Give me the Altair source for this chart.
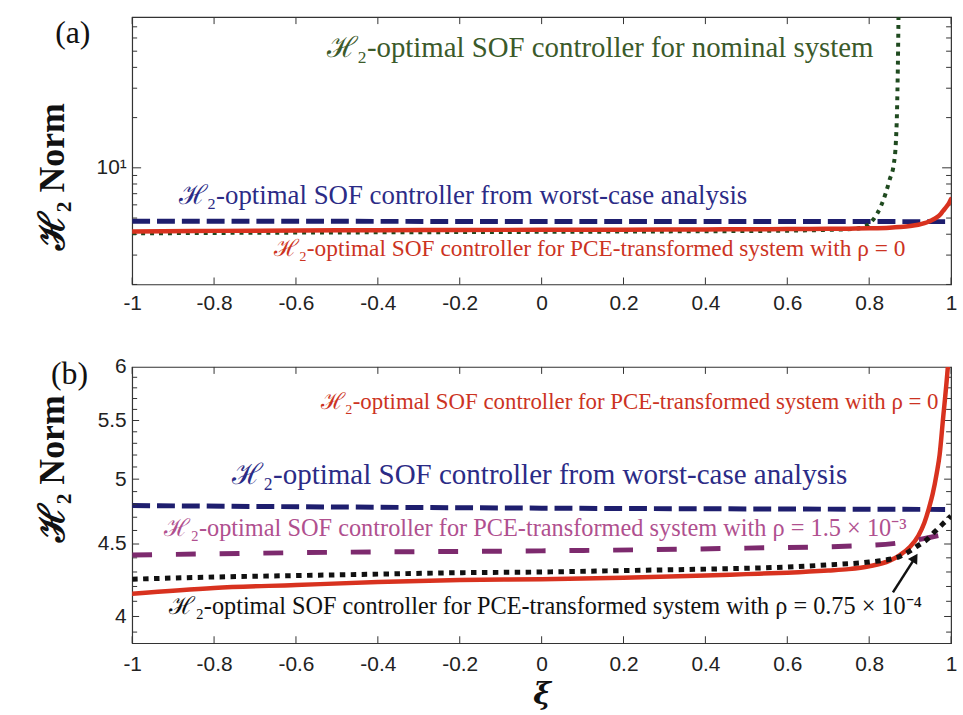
import altair as alt
import pandas as pd

# ---------------- data ----------------
XI_TICKS = [-1, -0.8, -0.6, -0.4, -0.2, 0, 0.2, 0.4, 0.6, 0.8, 1]

A_MAJOR = [10]
A_MINOR = [2, 3, 4, 5, 6, 7, 8, 9, 20, 30, 40, 50, 60, 70]
B_MAJOR = [4, 4.5, 5, 5.5]
B_MINOR = [3.9, 4.1, 4.2, 4.3, 4.4, 4.6, 4.7, 4.8, 4.9, 5.1, 5.2,
           5.3, 5.4, 5.6, 5.7, 5.8, 5.9]

# PCE-transformed system, rho = 0 (red solid)
xi_red = [-1.0, -0.8, -0.6, -0.4, -0.2, 0.0, 0.2, 0.4, 0.5, 0.6, 0.7, 0.75, 0.8,
          0.85, 0.875, 0.9, 0.92, 0.935, 0.946, 0.955, 0.965, 0.972, 0.98, 0.99,
          0.995, 1.0]
h2_red = [4.15, 4.19, 4.21, 4.23, 4.245, 4.25, 4.26, 4.275, 4.285, 4.295, 4.31,
          4.32, 4.34, 4.38, 4.42, 4.48, 4.56, 4.66, 4.77, 4.88, 5.05, 5.2, 5.5,
          5.9, 6.15, 6.5]

# worst-case analysis (navy dashed)
xi_blue = [-1.0, 0.0, 1.0]
h2_blue = [4.79, 4.77, 4.76]

# PCE-transformed system, rho = 1.5e-3 (purple dashed)
xi_pur = [-1.0, -0.5, 0.0, 0.5, 0.8, 0.9, 0.95, 1.0]
h2_pur = [4.42, 4.44, 4.45, 4.47, 4.49, 4.52, 4.55, 4.58]

# PCE-transformed system, rho = 0.75e-4 (black dotted)
xi_blk = [-1.0, -0.8, -0.6, -0.4, -0.2, 0.0, 0.2, 0.4, 0.6, 0.7, 0.8, 0.85,
          0.875, 0.9, 0.92, 0.94, 0.96, 0.98, 1.0]
h2_blk = [4.25, 4.265, 4.275, 4.285, 4.295, 4.30, 4.31, 4.32, 4.335, 4.35, 4.37,
          4.39, 4.41, 4.45, 4.49, 4.53, 4.59, 4.65, 4.71]

# nominal system (green dotted, panel a)
xi_grn = [-1.0, -0.6, -0.2, 0.2, 0.6, 0.7, 0.76, 0.79, 0.81, 0.83, 0.84, 0.85,
          0.86, 0.865, 0.868, 0.87, 0.872]
h2_grn = [4.05, 4.09, 4.12, 4.15, 4.2, 4.25, 4.3, 4.45, 4.9, 6.0, 7.0, 8.5,
          10.5, 14.0, 22.0, 40.0, 100.0]

# annotation texts
TXT_RED = "ℋ₂-optimal SOF controller for PCE-transformed system with ρ = 0"
TXT_BLUE = "ℋ₂-optimal SOF controller from worst-case analysis"
TXT_GRN = "ℋ₂-optimal SOF controller for nominal system"
TXT_PUR = "ℋ₂-optimal SOF controller for PCE-transformed system with ρ = 1.5 × 10⁻³"
TXT_BLK = "ℋ₂-optimal SOF controller for PCE-transformed system with ρ = 0.75 × 10⁻⁴"

ann_a_txt = ["(a)", TXT_GRN, TXT_BLUE, TXT_RED]
ann_a_xi = [-1.145, 0.143, -0.192, 0.117]
ann_a_h2 = [64.0, 52.5, 6.82, 3.24]
ann_a_col = ["#111111", "#3b5a2a", "#2b2b86", "#cc3322"]
ann_a_fs = [32, 29, 27, 23.5]

ann_b_txt = ["(b)", TXT_RED, TXT_BLUE, TXT_PUR, TXT_BLK]
ann_b_xi = [-1.153, 0.215, -0.005, -0.015, 0.01]
ann_b_h2 = [5.93, 5.67, 5.03, 4.61, 4.06]
ann_b_col = ["#111111", "#cc3322", "#2b2b86", "#b0508f", "#111111"]
ann_b_fs = [32, 23, 29.2, 24.5, 24.4]

arrow_xi = [0.858]
arrow_h2 = [4.16]
arrow_xi2 = [0.912]
arrow_h22 = [4.40]

# ---------------- styling / layout ----------------
W = 824
HA = 269
HB = 278
C_BLUE = "#1e1e6e"
C_RED = "#d8321f"
C_PUR = "#7d2a6e"
C_BLK = "#111111"
C_GRN = "#1f4a1f"
TXT_FONT = "Liberation Serif"

XSCALE = alt.Scale(domain=[-1, 1], nice=False, zero=False)
YSCALE_A = alt.Scale(type="log", domain=[2, 80], nice=False)
YSCALE_B = alt.Scale(type="log", domain=[3.83, 6.0], nice=False)

XLABEL_EXPR = "datum.value < 0 ? '-' + format(-datum.value, '') : format(datum.value, '')"


def df(xs, ys):
    return pd.DataFrame({"xi": xs, "h2": ys})


def x_label_axis(pad, title=None):
    kw = dict(orient="bottom", values=XI_TICKS, ticks=False, domain=False,
              grid=False, labelFlush=False, labelPadding=pad,
              labelExpr=XLABEL_EXPR, title=title)
    if title:
        kw.update(titleFont="DejaVu Serif", titleFontSize=30,
                  titleFontWeight="bold", titleFontStyle="italic",
                  titleBaseline="middle", titleY=52, titleColor="#111111")
    return alt.Axis(**kw)


def y_label_axis(values, title_y, label_expr=None):
    kw = dict(orient="left", values=values, ticks=False, domain=False, grid=False,
              labelPadding=6, title="ℋ₂ Norm", titleFont="Liberation Serif",
              titleFontSize=36, titleFontWeight="bold", titleColor="#111111",
              titleAngle=-90, titleAlign="center", titleBaseline="middle",
              titleX=-80, titleY=title_y)
    if label_expr:
        kw["labelExpr"] = label_expr
    return alt.Axis(**kw)


def line(data, color, width, dash, yscale, xaxis=None, yaxis=None, cap="butt"):
    props = dict(color=color, strokeWidth=width, clip=True,
                 interpolate="monotone", strokeCap=cap)
    if dash:
        props["strokeDash"] = dash
    return alt.Chart(data).mark_line(**props).encode(
        x=alt.X("xi:Q", scale=XSCALE, axis=xaxis),
        y=alt.Y("h2:Q", scale=yscale, axis=yaxis),
    )


def x_ticks(height, length):
    d = pd.DataFrame({"v": XI_TICKS})
    base = alt.Chart(d).mark_rule(color="#333333", strokeWidth=1)
    bottom = base.encode(x=alt.X("v:Q", scale=XSCALE, axis=None),
                         y=alt.value(height), y2=alt.value(height - length))
    top = base.encode(x=alt.X("v:Q", scale=XSCALE, axis=None),
                      y=alt.value(0), y2=alt.value(length))
    return [bottom, top]


def y_ticks(values, yscale, length):
    d = pd.DataFrame({"v": values})
    base = alt.Chart(d).mark_rule(color="#333333", strokeWidth=1)
    left = base.encode(y=alt.Y("v:Q", scale=yscale, axis=None),
                       x=alt.value(0), x2=alt.value(length))
    right = base.encode(y=alt.Y("v:Q", scale=yscale, axis=None),
                        x=alt.value(W), x2=alt.value(W - length))
    return [left, right]


def texts(xs, ys, txt, col, fs, yscale):
    d = pd.DataFrame({"xi": xs, "h2": ys, "txt": txt, "col": col, "fs": fs})
    return alt.Chart(d).mark_text(font=TXT_FONT, align="center",
                                  baseline="middle").encode(
        x=alt.X("xi:Q", scale=XSCALE, axis=None),
        y=alt.Y("h2:Q", scale=yscale, axis=None),
        text="txt:N",
        color=alt.Color("col:N", scale=None),
        size=alt.Size("fs:Q", scale=None),
    )


# ---------------- panel (a) ----------------
a_blue = line(df(xi_blue, h2_blue), C_BLUE, 5, [18, 7], YSCALE_A,
              xaxis=x_label_axis(8),
              yaxis=y_label_axis(A_MAJOR, 160, "'10¹'"))
a_grn = line(df(xi_grn, h2_grn), C_GRN, 4, [4, 5], YSCALE_A)
a_red = line(df(xi_red, h2_red), C_RED, 4.5, None, YSCALE_A, cap="round")
a_txt = texts(ann_a_xi, ann_a_h2, ann_a_txt, ann_a_col, ann_a_fs, YSCALE_A)

a_layers = ([a_blue] + x_ticks(HA, 7) + y_ticks(A_MINOR, YSCALE_A, 5)
            + y_ticks(A_MAJOR, YSCALE_A, 9) + [a_grn, a_red, a_txt])
panel_a = alt.layer(*a_layers).resolve_axis(
    x="independent", y="independent").properties(width=W, height=HA)

# ---------------- panel (b) ----------------
b_blue = line(df(xi_blue, h2_blue), C_BLUE, 5, [18, 7], YSCALE_B,
              xaxis=x_label_axis(10, "ξ"),
              yaxis=y_label_axis(B_MAJOR + [6], 102))
b_red = line(df(xi_red, h2_red), C_RED, 4.5, None, YSCALE_B, cap="round")
b_pur = line(df(xi_pur, h2_pur), C_PUR, 5, [20, 24], YSCALE_B)
b_blk = line(df(xi_blk, h2_blk), C_BLK, 5, [5.5, 5.5], YSCALE_B)
b_txt = texts(ann_b_xi, ann_b_h2, ann_b_txt, ann_b_col, ann_b_fs, YSCALE_B)

arrow_df = pd.DataFrame({"xi": arrow_xi, "h2": arrow_h2,
                         "xi2": arrow_xi2, "h22": arrow_h22})
b_arrow = alt.Chart(arrow_df).mark_rule(color="#111111", strokeWidth=2.5).encode(
    x=alt.X("xi:Q", scale=XSCALE, axis=None),
    y=alt.Y("h2:Q", scale=YSCALE_B, axis=None),
    x2="xi2:Q", y2="h22:Q")
b_head = alt.Chart(arrow_df).mark_point(shape="triangle-up", filled=True,
                                        size=120, angle=32, color="#111111",
                                        opacity=1).encode(
    x=alt.X("xi2:Q", scale=XSCALE, axis=None),
    y=alt.Y("h22:Q", scale=YSCALE_B, axis=None))

b_layers = ([b_blue] + x_ticks(HB, 7) + y_ticks(B_MINOR, YSCALE_B, 5)
            + y_ticks(B_MAJOR, YSCALE_B, 7)
            + [b_red, b_pur, b_blk, b_txt, b_arrow, b_head])
panel_b = alt.layer(*b_layers).resolve_axis(
    x="independent", y="independent").properties(width=W, height=HB)

chart = alt.vconcat(panel_a, panel_b, spacing=83, bounds="flush").properties(
    padding={"left": 34, "top": 13, "right": 5, "bottom": 5},
    background="white",
).configure_view(
    stroke="#333333", strokeWidth=1.2
).configure_axis(
    labelFont="Liberation Sans", labelFontSize=21, labelColor="#222222"
)

chart.save("out.html", embed_options={"renderer": "svg", "actions": False})
